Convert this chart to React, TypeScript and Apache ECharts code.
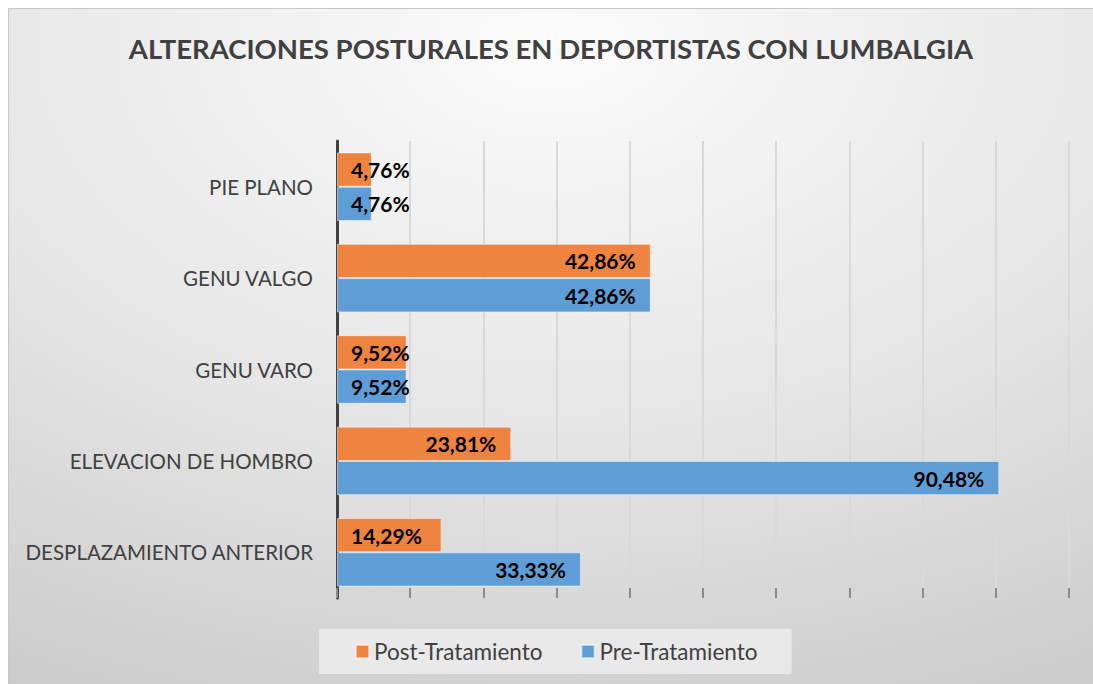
import React, { useEffect, useRef } from "react";
import * as echarts from "echarts";

const categories = [
  "DESPLAZAMIENTO ANTERIOR",
  "ELEVACION DE HOMBRO",
  "GENU VARO",
  "GENU VALGO",
  "PIE PLANO",
];
const postTratamiento = [14.29, 23.81, 9.52, 42.86, 4.76];
const preTratamiento = [33.33, 90.48, 9.52, 42.86, 4.76];
const seriesNames = ["Post-Tratamiento", "Pre-Tratamiento"];
const axisMin = 0;
const axisMax = 100;
const axisInterval = 10;

const FONT = "Lato, 'Open Sans', sans-serif";

const fmt = (v: number) => v.toFixed(2).replace(".", ",") + "%";

const buildData = (arr: number[]) =>
  arr.map((v) =>
    v < 16
      ? { value: v, label: { position: "insideLeft", distance: 14 } }
      : { value: v }
  );

export default function App() {
  const ref = useRef<HTMLDivElement>(null);
  useEffect(() => {
    if (!ref.current) return;
    const chart = echarts.init(ref.current, undefined, { renderer: "svg" });
    const label = {
      show: true,
      position: "insideRight",
      distance: 15,
      color: "#000",
      fontWeight: "bold",
      fontSize: 21,
      fontFamily: FONT,
      formatter: (p: any) => fmt(p.value),
    };
    chart.setOption({
      animation: false,
      backgroundColor: {
        type: "radial",
        x: 0.5,
        y: 0.05,
        r: 1.25,
        colorStops: [
          { offset: 0, color: "#fbfbfb" },
          { offset: 0.45, color: "#e6e6e6" },
          { offset: 1, color: "#c2c2c2" },
        ],
      },
      title: {
        text: "ALTERACIONES POSTURALES EN DEPORTISTAS CON LUMBALGIA",
        left: "center",
        top: 20,
        textStyle: {
          fontFamily: FONT,
          fontSize: 27.5,
          fontWeight: "bold",
          color: "#404040",
        },
      },
      legend: {
        data: seriesNames,
        left: 310,
        top: 620,
        padding: [11, 34, 11, 36],
        itemGap: 38,
        itemWidth: 13,
        itemHeight: 13,
        icon: "rect",
        backgroundColor: "rgba(236,236,236,0.85)",
        textStyle: {
          fontFamily: FONT,
          fontSize: 22.5,
          color: "#404040",
          lineHeight: 23,
        },
      },
      grid: { left: 328, right: 24, top: 132, bottom: 86 },
      xAxis: {
        type: "value",
        min: axisMin,
        max: axisMax,
        interval: axisInterval,
        axisLabel: { show: false },
        axisLine: { show: false },
        axisTick: {
          show: true,
          inside: true,
          length: 10,
          lineStyle: { color: "#8c8c8c", width: 2 },
        },
        splitLine: { show: true, lineStyle: { color: "#d9d9d9", width: 2 } },
      },
      yAxis: {
        type: "category",
        data: categories,
        axisTick: { show: false },
        axisLine: { show: true, lineStyle: { color: "#404040", width: 3 } },
        axisLabel: {
          fontFamily: FONT,
          fontSize: 20.5,
          color: "#404040",
          margin: 24,
        },
      },
      series: [
        {
          name: seriesNames[0],
          type: "bar",
          data: buildData(postTratamiento),
          barGap: "0%",
          barCategoryGap: "25%",
          itemStyle: { color: "#EE8440", borderColor: "rgba(255,255,255,0.5)", borderWidth: 1 },
          label,
        },
        {
          name: seriesNames[1],
          type: "bar",
          data: buildData(preTratamiento),
          barGap: "0%",
          barCategoryGap: "25%",
          itemStyle: { color: "#5F9DD6", borderColor: "rgba(255,255,255,0.5)", borderWidth: 1 },
          label,
        },
      ],
    });
    return () => chart.dispose();
  }, []);
  return (
    <div
      ref={ref}
      style={{
        position: "absolute",
        left: 8,
        top: 8,
        width: 1085,
        height: 676,
        boxSizing: "border-box",
        borderTop: "1px solid #c8c8c8",
        borderLeft: "1px solid #c8c8c8",
      }}
    />
  );
}
